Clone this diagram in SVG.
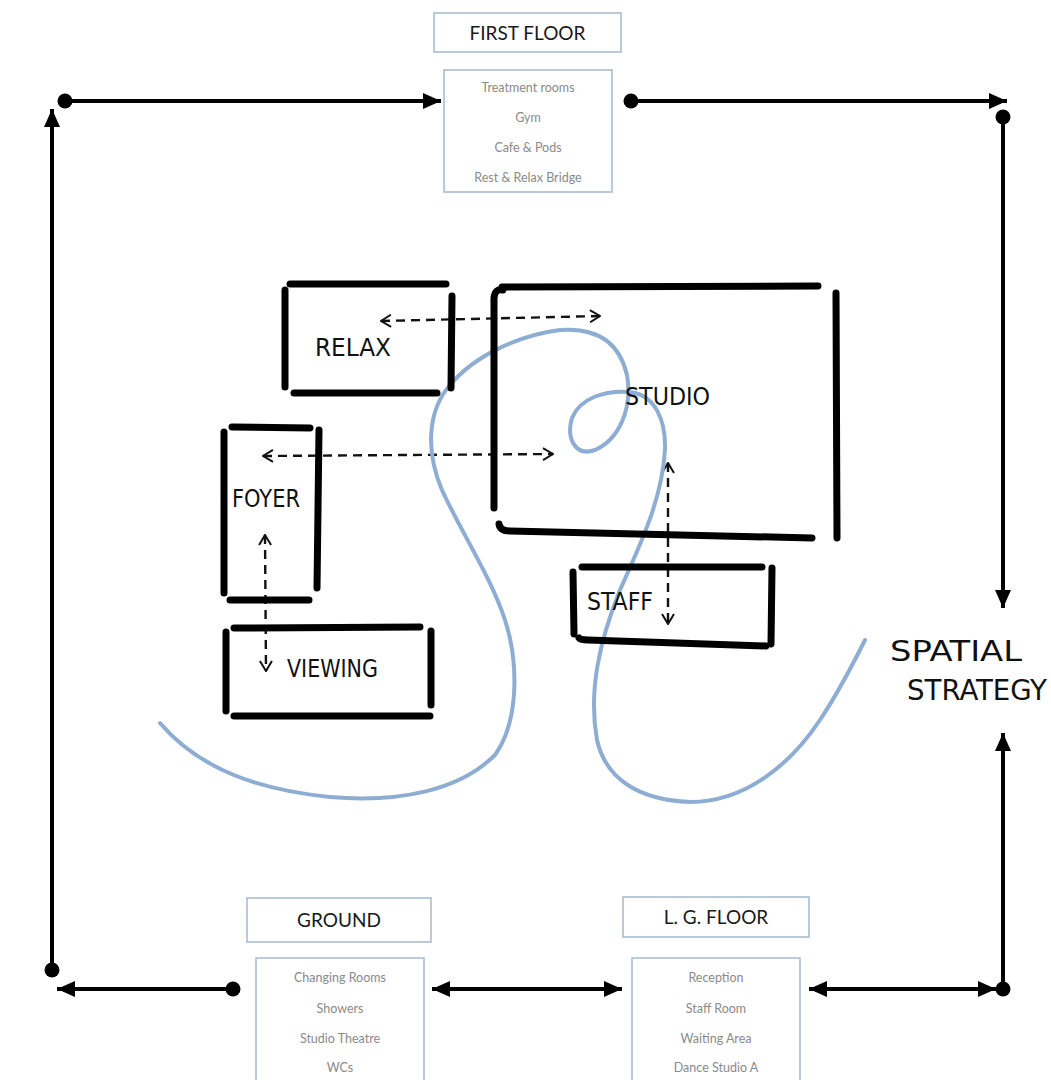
<svg xmlns="http://www.w3.org/2000/svg" width="1051" height="1080" viewBox="0 0 1051 1080">
<defs>
<style>
.box{fill:#fff;stroke:#a9bdd0;stroke-width:1.6}
.ttl{font-family:Lato,"Noto Sans",sans-serif;font-size:19px;fill:#1a1a1a;text-anchor:middle}
.itm{font-family:Lato,"Noto Sans",sans-serif;font-size:12.5px;fill:#8a8a8a;text-anchor:middle}
.con{stroke:#000;stroke-width:4;fill:none}
.dot{fill:#000}
.hw{stroke:#000;stroke-width:7;stroke-linecap:round;fill:none}
.dash{stroke:#111;stroke-width:2.4;stroke-dasharray:9 6;fill:none}
.lbl{font-family:"DejaVu Sans Condensed","DejaVu Sans",sans-serif;font-weight:200;font-size:24px;fill:#111}
.big{font-family:"DejaVu Sans Condensed","DejaVu Sans",sans-serif;font-weight:200;font-size:29px;fill:#111}
.flow{stroke:#8eadd2;stroke-width:4;fill:none;stroke-linecap:round}
</style>
<marker id="ah" viewBox="0 0 18 16" refX="18" refY="8" markerWidth="18" markerHeight="16" markerUnits="userSpaceOnUse" orient="auto-start-reverse"><path d="M0,0 L18,8 L0,16 Z" fill="#000"/></marker>
<marker id="oh" viewBox="0 0 12 14" refX="11" refY="7" markerWidth="12" markerHeight="14" markerUnits="userSpaceOnUse" orient="auto-start-reverse"><path d="M1,1 L11,7 L1,13" fill="none" stroke="#111" stroke-width="2"/></marker>
</defs>
<rect width="1051" height="1080" fill="#fff"/>

<g id="connectors">
<line class="con" x1="65" y1="101" x2="441" y2="101" marker-end="url(#ah)"/>
<line class="con" x1="631" y1="101" x2="1007" y2="101" marker-end="url(#ah)"/>
<line class="con" x1="1003" y1="117" x2="1003" y2="608" marker-end="url(#ah)"/>
<line class="con" x1="52" y1="970" x2="52" y2="109" marker-end="url(#ah)"/>
<line class="con" x1="233" y1="989" x2="57" y2="989" marker-end="url(#ah)"/>
<line class="con" x1="432" y1="989" x2="622" y2="989" marker-start="url(#ah)" marker-end="url(#ah)"/>
<line class="con" x1="809" y1="989" x2="996" y2="989" marker-start="url(#ah)" marker-end="url(#ah)"/>
<line class="con" x1="1003" y1="989" x2="1003" y2="733" marker-end="url(#ah)"/>
<circle class="dot" cx="65" cy="101" r="7.5"/>
<circle class="dot" cx="631" cy="101" r="7.5"/>
<circle class="dot" cx="1003" cy="117" r="7.5"/>
<circle class="dot" cx="52" cy="970" r="7.5"/>
<circle class="dot" cx="233" cy="989" r="7.5"/>
<circle class="dot" cx="1003" cy="989" r="7.5"/>
<path class="dash" d="M381,321 L600,316" marker-start="url(#oh)" marker-end="url(#oh)"/>
<path class="dash" d="M263,456 L553,454" marker-start="url(#oh)" marker-end="url(#oh)"/>
<path class="dash" d="M265,535 L266,671" marker-start="url(#oh)" marker-end="url(#oh)"/>
<path class="dash" d="M668,463 L668,624" marker-start="url(#oh)" marker-end="url(#oh)"/>
</g>

<g id="first-floor">
<rect class="box" x="434" y="13" width="187" height="39"/>
<text class="ttl" x="527.5" y="40">FIRST FLOOR</text>
<rect class="box" x="444" y="70" width="168" height="122"/>
<text class="itm" x="528" y="92">Treatment rooms</text>
<text class="itm" x="528" y="122">Gym</text>
<text class="itm" x="528" y="152">Cafe &amp; Pods</text>
<text class="itm" x="528" y="182">Rest &amp; Relax Bridge</text>
</g>

<g id="ground">
<rect class="box" x="247" y="898" width="184" height="44"/>
<text class="ttl" x="339" y="927">GROUND</text>
<rect class="box" x="256" y="958" width="168" height="130"/>
<text class="itm" x="340" y="982">Changing Rooms</text>
<text class="itm" x="340" y="1013">Showers</text>
<text class="itm" x="340" y="1043">Studio Theatre</text>
<text class="itm" x="340" y="1072">WCs</text>
</g>

<g id="lg-floor">
<rect class="box" x="623" y="897" width="186" height="40"/>
<text class="ttl" x="716" y="924">L. G.  FLOOR</text>
<rect class="box" x="632" y="958" width="168" height="130"/>
<text class="itm" x="716" y="982">Reception</text>
<text class="itm" x="716" y="1013">Staff Room</text>
<text class="itm" x="716" y="1043">Waiting Area</text>
<text class="itm" x="716" y="1072">Dance Studio A</text>
</g>

<g id="spatial-strategy">
<text class="big" x="890" y="661" textLength="132" lengthAdjust="spacingAndGlyphs">SPATIAL</text>
<text class="big" x="907" y="700" textLength="140" lengthAdjust="spacingAndGlyphs">STRATEGY</text>
</g>

<g id="flow-line">
<path class="flow" d="M160,723 C200,770 260,790 330,797 C400,803 460,790 495,755 C520,720 518,660 505,620 C490,575 460,530 442,490 C425,450 428,410 450,385 C475,355 520,335 560,330 C600,327 620,345 627,375 C633,410 618,440 595,450 C575,457 566,438 572,418 C580,398 605,390 630,392 C655,395 666,420 665,450 C662,500 640,545 620,590 C600,640 588,690 597,740 C606,780 640,800 690,802 C745,802 790,765 820,720 C840,690 855,660 865,640"/>
</g>

<g id="relax">
<line class="hw" x1="290" y1="284" x2="446" y2="284"/>
<line class="hw" x1="285" y1="290" x2="285" y2="387"/>
<line class="hw" x1="452" y1="296" x2="451" y2="388"/>
<line class="hw" x1="294" y1="393" x2="437" y2="393"/>
<text class="lbl" x="315" y="356" textLength="76" lengthAdjust="spacingAndGlyphs">RELAX</text>
</g>

<g id="studio">
<line class="hw" x1="502" y1="287" x2="818" y2="286"/>
<path class="hw" d="M494,508 L494,298 Q495,288 503,290"/>
<line class="hw" x1="836" y1="293" x2="837" y2="538"/>
<path class="hw" d="M499,524 Q500,531 510,531 L812,538"/>
<text class="lbl" x="625" y="405" textLength="85" lengthAdjust="spacingAndGlyphs">STUDIO</text>
</g>

<g id="foyer">
<line class="hw" x1="232" y1="427" x2="310" y2="428"/>
<line class="hw" x1="224" y1="432" x2="224" y2="593"/>
<line class="hw" x1="319" y1="430" x2="317" y2="588"/>
<line class="hw" x1="230" y1="600" x2="309" y2="600"/>
<text class="lbl" x="232" y="507" textLength="68" lengthAdjust="spacingAndGlyphs">FOYER</text>
</g>

<g id="viewing">
<line class="hw" x1="234" y1="628" x2="420" y2="627"/>
<line class="hw" x1="226" y1="632" x2="226" y2="711"/>
<line class="hw" x1="431" y1="631" x2="431" y2="705"/>
<line class="hw" x1="234" y1="716" x2="430" y2="716"/>
<text class="lbl" x="287" y="677" textLength="91" lengthAdjust="spacingAndGlyphs">VIEWING</text>
</g>

<g id="staff">
<line class="hw" x1="582" y1="567" x2="762" y2="567"/>
<line class="hw" x1="573" y1="572" x2="574" y2="634"/>
<line class="hw" x1="772" y1="568" x2="771" y2="644"/>
<path class="hw" d="M579,638 Q580,640 588,640 L766,646"/>
<text class="lbl" x="587" y="610" textLength="66" lengthAdjust="spacingAndGlyphs">STAFF</text>
</g>
</svg>
